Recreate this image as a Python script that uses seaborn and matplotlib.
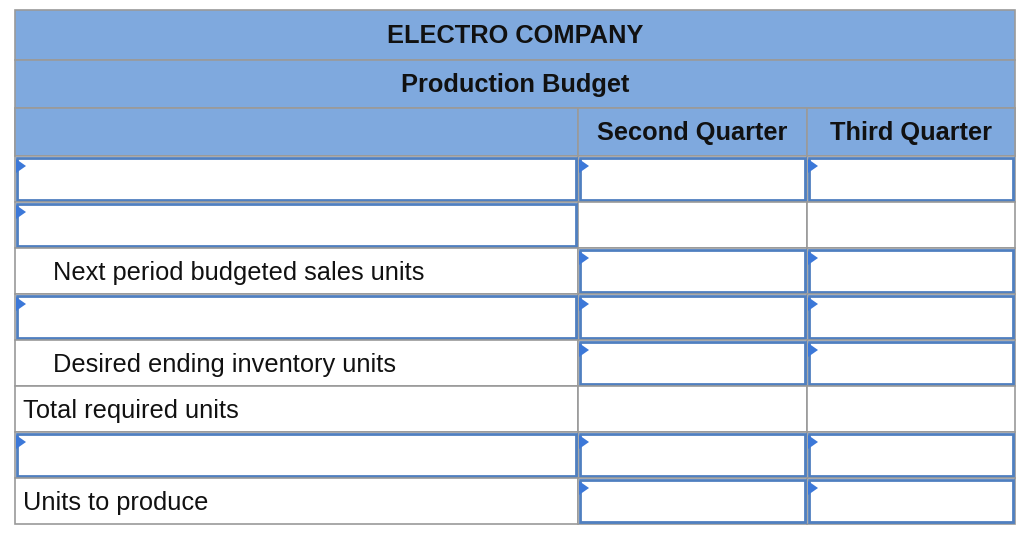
import matplotlib
matplotlib.use("Agg")
import matplotlib.pyplot as plt
import matplotlib.patches as patches
import seaborn as sns

sns.set_theme(style="white", font="Liberation Sans")

# Table contents
title_lines = ["ELECTRO COMPANY", "Production Budget"]
col_headers = ["", "Second Quarter", "Third Quarter"]
row_labels = ["", "", "Next period budgeted sales units", "",
              "Desired ending inventory units", "Total required units", "",
              "Units to produce"]
row_indent = [0, 0, 1, 0, 1, 0, 0, 0]
label_input = [1, 1, 0, 1, 0, 0, 1, 0]
value_input = [1, 0, 1, 1, 1, 0, 1, 1]

# Geometry in pixels
col_x = [15, 578, 807, 1015]
top_rows = [10, 60, 108, 156]
row_h = 46
header_color = "#7FA9DE"
grid_color = "#9A9A9A"
input_color = "#4F7FC0"
fs = 18.3

fig = plt.figure(figsize=(10.24, 5.36), dpi=100)
ax = fig.add_axes([0, 0, 1, 1])
ax.set_xlim(0, 1024)
ax.set_ylim(536, 0)
ax.axis("off")

def cell(x0, y0, x1, y1, fc="white", ec=grid_color, lw=1.2):
    ax.add_patch(patches.Rectangle((x0, y0), x1 - x0, y1 - y0, facecolor=fc, edgecolor=ec, lw=lw))

def input_box(x0, y0, x1, y1):
    cell(x0 + 2, y0 + 2, x1 - 2, y1 - 2, ec=input_color, lw=2)
    ax.add_patch(patches.Polygon([(x0 + 1, y0 + 3), (x0 + 11, y0 + 10), (x0 + 1, y0 + 17)],
                                 closed=True, color="#3C78D8", lw=0))

# Header band
for i in range(3):
    cell(col_x[0], top_rows[i], col_x[3], top_rows[i + 1], fc=header_color)
for i, t in enumerate(title_lines):
    ax.text(515, (top_rows[i] + top_rows[i + 1]) / 2 + 1, t, ha="center", va="center",
            fontsize=fs, fontweight="bold", color="#111111")
for j in range(3):
    cell(col_x[j], top_rows[2], col_x[j + 1], top_rows[3], fc=header_color)
    ax.text((col_x[j] + col_x[j + 1]) / 2, (top_rows[2] + top_rows[3]) / 2 + 1, col_headers[j],
            ha="center", va="center", fontsize=fs, fontweight="bold", color="#111111")

# Body rows
for r, label in enumerate(row_labels):
    y0 = top_rows[3] + r * row_h
    y1 = y0 + row_h
    for j in range(3):
        cell(col_x[j], y0, col_x[j + 1], y1)
    if label_input[r]:
        input_box(col_x[0], y0, col_x[1], y1)
    if value_input[r]:
        input_box(col_x[1], y0, col_x[2], y1)
        input_box(col_x[2], y0, col_x[3], y1)
    if label:
        ax.text(col_x[0] + 8 + 30 * row_indent[r], (y0 + y1) / 2 + 2, label,
                ha="left", va="center", fontsize=fs, color="#111111")

fig.savefig("out.png", dpi=100)
